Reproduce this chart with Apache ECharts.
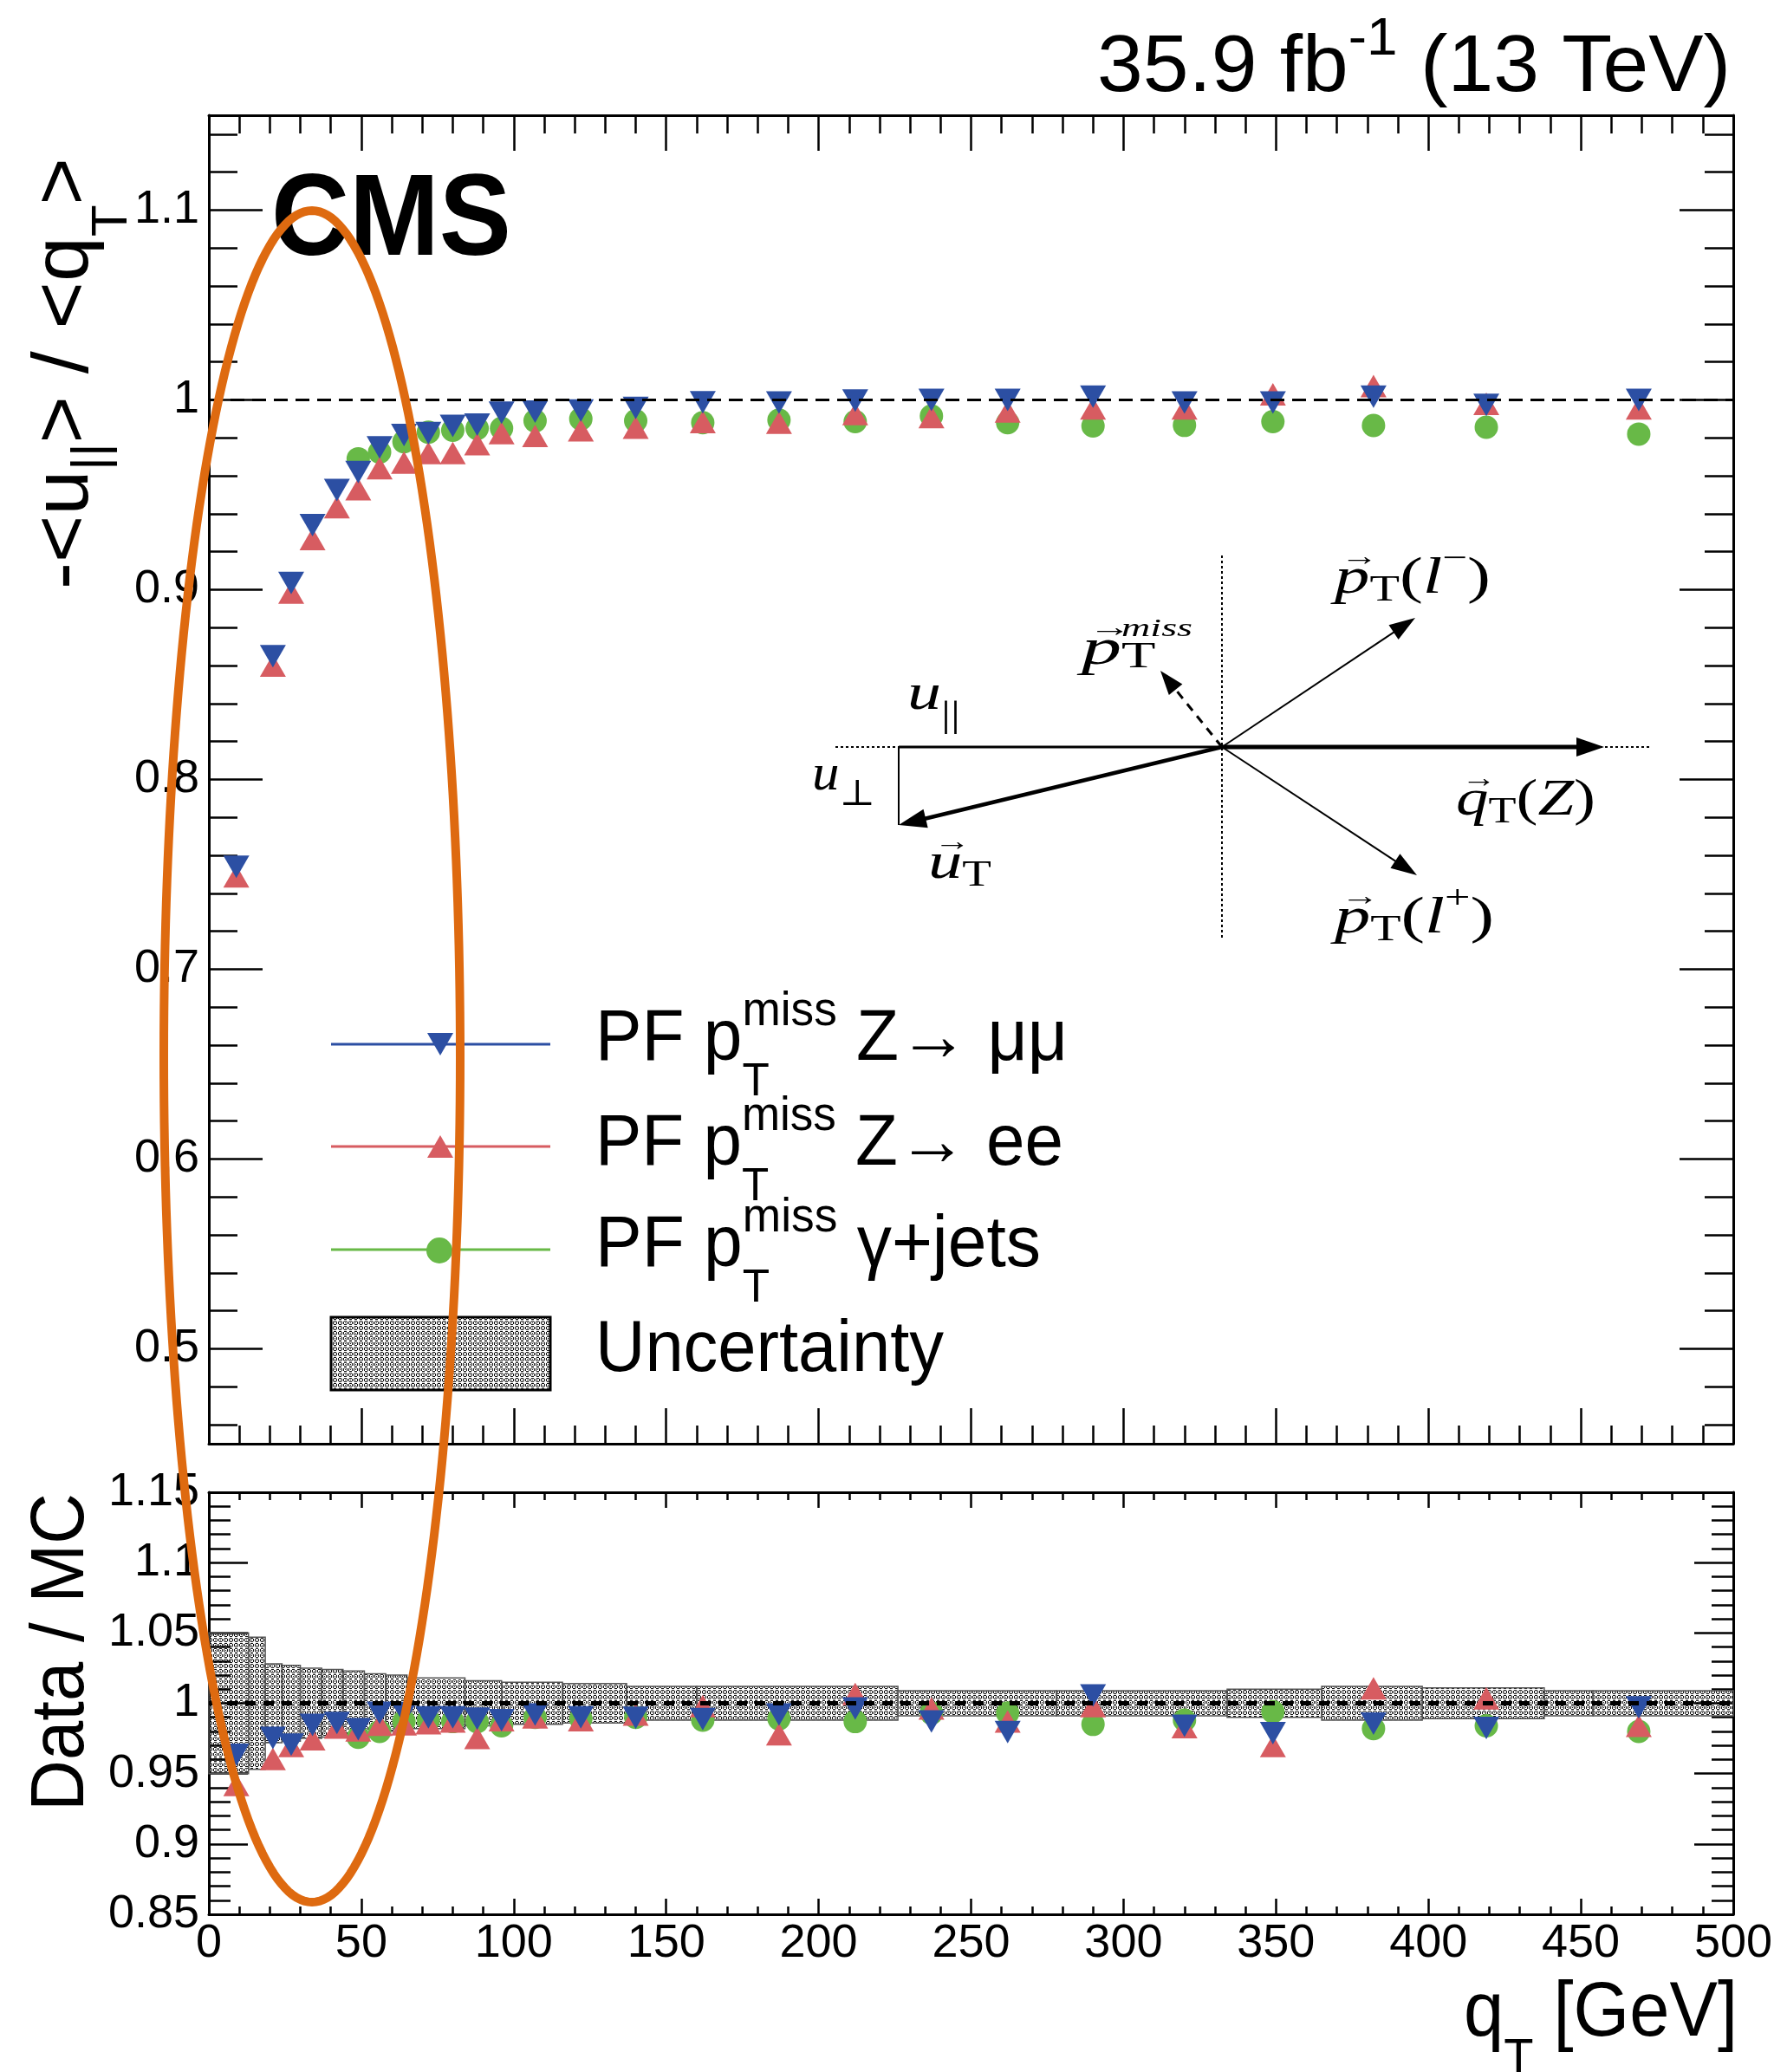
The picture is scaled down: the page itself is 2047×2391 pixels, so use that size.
<!DOCTYPE html>
<html>
<head>
<meta charset="utf-8">
<script src="https://cdn.jsdelivr.net/npm/echarts@6/dist/echarts.min.js"></script>
<style>
  html, body { margin: 0; padding: 0; background: #fff; }
  #chart { width: 2047px; height: 2391px; }
</style>
</head>
<body>
<div id="chart"></div>
<script>
// ---- data ---------------------------------------------------------------
// bin-averaged boson q_T of each point (GeV)
const qT = [9, 21, 27, 34, 42, 49, 56, 64, 72, 80, 88, 96, 107, 122, 140, 162, 187, 212, 237, 262, 290, 320, 349, 382, 419, 469];

// response -<u_par>/<q_T> in data
const respMuMu = [0.754, 0.865, 0.9035, 0.934, 0.9525, 0.962, 0.975, 0.9815, 0.9825, 0.9863, 0.987, 0.9933, 0.9938, 0.9944, 0.9958, 0.9988, 0.9986, 0.9997, 1.000, 1.000, 1.0017, 0.9986, 0.9986, 1.0017, 0.9974, 1.000];
const respEE   = [0.749, 0.860, 0.8985, 0.9267, 0.9435, 0.953, 0.964, 0.967, 0.972, 0.972, 0.9767, 0.9825, 0.981, 0.984, 0.9854, 0.9883, 0.988, 0.9926, 0.991, 0.994, 0.9956, 0.9956, 1.003, 1.0073, 0.998, 0.9956];
const respGJ   = [null, null, null, null, null, 0.969, 0.9725, 0.978, 0.983, 0.984, 0.985, 0.985, 0.989, 0.990, 0.989, 0.988, 0.9894, 0.9886, 0.9915, 0.988, 0.9863, 0.9866, 0.9886, 0.9865, 0.9856, 0.982];

// data / MC ratio of the response
const ratioMuMu = [0.9634, 0.9754, 0.9706, 0.9846, 0.986, 0.9815, 0.9932, 0.993, 0.990, 0.990, 0.989, 0.988, 0.992, 0.990, 0.9897, 0.9887, 0.992, 0.9963, 0.987, 0.9795, 1.0055, 0.984, 0.9788, 0.9856, 0.9825, 0.997];
const ratioEE   = [0.9419, 0.9604, 0.9696, 0.9745, 0.9827, 0.9807, 0.9848, 0.985, 0.9858, 0.987, 0.9754, 0.988, 0.990, 0.988, 0.992, 0.998, 0.978, 1.0066, 0.9963, 0.987, 0.998, 0.983, 0.9696, 1.0107, 1.0035, 0.984];
const ratioGJ   = [null, null, null, null, null, 0.9758, 0.980, 0.987, 0.988, 0.987, 0.987, 0.984, 0.990, 0.989, 0.990, 0.988, 0.989, 0.987, 0.993, 0.993, 0.985, 0.988, 0.994, 0.982, 0.984, 0.980];

// systematic uncertainty band on the ratio: bin edges (GeV) and half-width
const uncEdges = [0, 13, 18.5, 24, 30, 37, 44, 51, 58, 65, 84, 96, 116, 137, 160, 226, 278, 334, 365, 398, 438, 454, 500];
const uncHalf  = [0.050, 0.047, 0.028, 0.027, 0.025, 0.024, 0.023, 0.021, 0.020, 0.018, 0.016, 0.015, 0.014, 0.012, 0.012, 0.009, 0.009, 0.010, 0.012, 0.011, 0.009, 0.009];

// tick labels
const respTicks = [0.5, 0.6, 0.7, 0.8, 0.9, 1, 1.1];
const ratioTicks = [0.85, 0.9, 0.95, 1, 1.05, 1.1, 1.15];
const qTTicks = [0, 50, 100, 150, 200, 250, 300, 350, 400, 450, 500];

// ---- styling ------------------------------------------------------------
const SANS = '"Liberation Sans", Arial, Helvetica, sans-serif';
const SERIF = '"Liberation Serif", "DejaVu Serif", serif';
const BLUE = '#2c4fa3', RED = '#d75c61', GREEN = '#68b947', ORANGE = '#de6a10';

const respMinor = [];
for (let i = 46; i <= 114; i += 2) if (i % 10 !== 0) respMinor.push(i / 100);

// ring-style fill used for the uncertainty band
function hatch() {
  const c = document.createElement('canvas');
  c.width = 6; c.height = 6;
  const g = c.getContext('2d');
  g.fillStyle = '#111';
  [[1,0],[2,0],[3,0],[0,1],[4,1],[0,2],[2,2],[4,2],[0,3],[4,3],[1,4],[2,4],[3,4]]
    .forEach(p => g.fillRect(p[0], p[1], 1, 1));
  return { image: c, repeat: 'repeat' };
}
const HATCH = hatch();

const pairs = (xs, ys) => xs.map((x, i) => [x, ys[i]]).filter(d => d[1] != null);

// text measuring for the hand-set labels with sub/superscripts
const mctx = document.createElement('canvas').getContext('2d');
function tw(t, f) { mctx.font = f; return mctx.measureText(t).width; }

function mathText(o) {
  const kids = [];
  let cx = 0, stackW = 0;
  for (const tk of o.tokens) {
    const w = tw(tk.t, tk.f);
    kids.push({ type: 'text', x: cx, y: tk.dy || 0, z: 60,
      style: { text: tk.t, font: tk.f, fill: '#000', align: 'left', verticalAlign: 'middle' } });
    if (tk.vec) {
      kids.push({ type: 'text', x: cx + w / 2 + 6, y: (tk.dy || 0) - 24, z: 60,
        style: { text: '\u2192', font: '32px ' + SERIF, fill: '#000', align: 'center', verticalAlign: 'middle' } });
    }
    if (tk.stack) { stackW = Math.max(stackW, w); }
    else { cx += Math.max(w, stackW); stackW = 0; }
  }
  const total = cx;
  const s = o.width ? o.width / total : 1;
  const shift = o.align === 'right' ? -total : (o.align === 'center' ? -total / 2 : 0);
  kids.forEach(k => { k.x += shift; });
  return { type: 'group', x: o.x, y: o.y, rotation: o.rotation || 0, scaleX: s, scaleY: 1, children: kids };
}

function arrow(x0, y0, x1, y1, w, len, hw, dash) {
  const dx = x1 - x0, dy = y1 - y0, L = Math.hypot(dx, dy);
  const ux = dx / L, uy = dy / L;
  const bx = x1 - ux * len, by = y1 - uy * len;
  return [
    { type: 'line', z: 55, shape: { x1: x0, y1: y0, x2: bx + ux * 2, y2: by + uy * 2 },
      style: { stroke: '#000', lineWidth: w, lineDash: dash || null } },
    { type: 'polygon', z: 55, shape: { points: [[x1, y1], [bx - uy * hw, by + ux * hw], [bx + uy * hw, by - ux * hw]] },
      style: { fill: '#000' } }
  ];
}

// ---- axes ---------------------------------------------------------------
const axisLineStyle = { color: '#000', width: 3 };
const tickStyle = { color: '#000', width: 2.5 };
const labelStyle = { fontSize: 54, fontFamily: SANS, color: '#000' };

function qAxis(gridIndex, position, major, minor, labels) {
  return {
    type: 'value', gridIndex, position, min: qTTicks[0], max: qTTicks[qTTicks.length - 1], interval: 50,
    axisLine: { show: true, onZero: false, lineStyle: axisLineStyle },
    axisTick: { show: true, inside: true, length: major, lineStyle: tickStyle },
    minorTick: { show: true, splitNumber: 5, length: minor, lineStyle: tickStyle },
    axisLabel: labels ? Object.assign({ show: true, margin: 7 }, labelStyle) : { show: false },
    splitLine: { show: false }, minorSplitLine: { show: false }
  };
}
function respAxis(position, ticks, len, line, labels) {
  return {
    type: 'value', gridIndex: 0, position, min: 0.45, max: 1.15,
    axisLine: { show: line, onZero: false, lineStyle: axisLineStyle },
    axisTick: { show: true, inside: true, length: len, customValues: ticks, lineStyle: tickStyle },
    axisLabel: labels ? Object.assign({ show: true, margin: 11, customValues: respTicks }, labelStyle) : { show: false },
    splitLine: { show: false }
  };
}
function ratioAxis(position, labels) {
  return {
    type: 'value', gridIndex: 1, position, min: ratioTicks[0], max: ratioTicks[ratioTicks.length - 1], interval: 0.05,
    axisLine: { show: true, onZero: false, lineStyle: axisLineStyle },
    axisTick: { show: true, inside: true, length: 45, lineStyle: tickStyle },
    minorTick: { show: true, splitNumber: 5, length: 25, lineStyle: tickStyle },
    axisLabel: labels ? Object.assign({ show: true, margin: 11 }, labelStyle) : { show: false },
    splitLine: { show: false }, minorSplitLine: { show: false }
  };
}

// ---- decorations --------------------------------------------------------
const g = [];
// luminosity / energy
g.push(mathText({ x: 1997, y: 80, align: 'right', width: 731, tokens: [
  { t: '35.9 fb', f: '92px ' + SANS },
  { t: '-1', f: '62px ' + SANS, dy: -34 },
  { t: ' (13 TeV)', f: '92px ' + SANS }
]}));
// CMS
g.push(mathText({ x: 313, y: 257, width: 277, tokens: [{ t: 'CMS', f: 'bold 134px ' + SANS }] }));
// y titles
g.push(mathText({ x: 76, y: 680, rotation: Math.PI / 2, width: 498, tokens: [
  { t: '-<u', f: '90px ' + SANS },
  { t: '||', f: '58px ' + SANS, dy: 31 },
  { t: '> / <q', f: '90px ' + SANS },
  { t: 'T', f: '58px ' + SANS, dy: 54 },
  { t: '>', f: '90px ' + SANS }
]}));
g.push(mathText({ x: 72, y: 2090, rotation: Math.PI / 2, width: 367, tokens: [{ t: 'Data / MC', f: '88px ' + SANS }] }));
// x title
g.push(mathText({ x: 2005, y: 2324, align: 'right', width: 316, tokens: [
  { t: 'q', f: '89px ' + SANS },
  { t: 'T', f: '60px ' + SANS, dy: 53 },
  { t: ' [GeV]', f: '89px ' + SANS }
]}));

// legend
const legendRows = [
  { y: 1205, ty: 1200, color: BLUE, label: ' Z\u2192 \u03bc\u03bc', w: 545 },
  { y: 1323, ty: 1321, color: RED, label: ' Z\u2192 ee', w: 540 },
  { y: 1442, ty: 1438, color: GREEN, label: ' \u03b3+jets', w: 514 }
];
legendRows.forEach(r => {
  g.push({ type: 'line', z: 50, shape: { x1: 382, y1: r.y, x2: 635, y2: r.y }, style: { stroke: r.color, lineWidth: 3 } });
  g.push(mathText({ x: 687, y: r.ty, width: r.w, tokens: [
    { t: 'PF p', f: '83px ' + SANS },
    { t: 'miss', f: '55px ' + SANS, dy: -32, stack: true },
    { t: 'T', f: '53px ' + SANS, dy: 49 },
    { t: r.label, f: '83px ' + SANS }
  ]}));
});
g.push({ type: 'polygon', z: 52, shape: { points: [[493, 1192], [523, 1192], [508, 1218]] }, style: { fill: BLUE } });
g.push({ type: 'polygon', z: 52, shape: { points: [[493, 1336], [523, 1336], [508, 1310]] }, style: { fill: RED } });
g.push({ type: 'circle', z: 52, shape: { cx: 507, cy: 1443, r: 15 }, style: { fill: GREEN } });
g.push({ type: 'rect', z: 50, shape: { x: 382, y: 1520, width: 253, height: 84 }, style: { fill: HATCH, stroke: '#000', lineWidth: 3 } });
g.push(mathText({ x: 687, y: 1559, width: 402, tokens: [{ t: 'Uncertainty', f: '83px ' + SANS }] }));

// recoil diagram
const O = [1410, 862];
g.push({ type: 'line', z: 54, shape: { x1: 964, y1: O[1], x2: 1903, y2: O[1] }, style: { stroke: '#000', lineWidth: 2, lineDash: [3, 3] } });
g.push({ type: 'line', z: 54, shape: { x1: O[0], y1: 641, x2: O[0], y2: 1084 }, style: { stroke: '#000', lineWidth: 2, lineDash: [3, 3] } });
g.push({ type: 'line', z: 55, shape: { x1: 1037, y1: O[1], x2: O[0], y2: O[1] }, style: { stroke: '#000', lineWidth: 3 } });
g.push({ type: 'line', z: 55, shape: { x1: 1037, y1: O[1], x2: 1037, y2: 952 }, style: { stroke: '#000', lineWidth: 2 } });
g.push(...arrow(O[0], O[1], 1851, O[1], 5, 32, 11));
g.push(...arrow(O[0], O[1], 1037, 952, 4.5, 32, 11));
g.push(...arrow(O[0], O[1], 1633, 713, 2, 30, 10));
g.push(...arrow(O[0], O[1], 1635, 1010, 2, 30, 10));
g.push(...arrow(O[0], O[1], 1339, 774, 3, 28, 10, [10, 8]));

const mI = 'italic 60px ' + SERIF, mR = '60px ' + SERIF, sR = '42px ' + SERIF;
g.push(mathText({ x: 1540, y: 668, width: 180, tokens: [
  { t: 'p', f: mI, vec: true }, { t: 'T', f: sR, dy: 14 }, { t: '(', f: mR }, { t: 'l', f: mI },
  { t: '\u2212', f: '38px ' + SERIF, dy: -22 }, { t: ')', f: mR }
]}));
g.push(mathText({ x: 1540, y: 1060, width: 184, tokens: [
  { t: 'p', f: mI, vec: true }, { t: 'T', f: sR, dy: 14 }, { t: '(', f: mR }, { t: 'l', f: mI },
  { t: '+', f: '38px ' + SERIF, dy: -22 }, { t: ')', f: mR }
]}));
g.push(mathText({ x: 1680, y: 924, width: 161, tokens: [
  { t: 'q', f: mI, vec: true }, { t: 'T', f: sR, dy: 14 }, { t: '(', f: mR }, { t: 'Z', f: mI }, { t: ')', f: mR }
]}));
g.push(mathText({ x: 1071, y: 997, width: 73, tokens: [
  { t: 'u', f: mI, vec: true }, { t: 'T', f: sR, dy: 14 }
]}));
g.push(mathText({ x: 1047, y: 802, width: 61, tokens: [
  { t: 'u', f: mI }, { t: '||', f: sR, dy: 25 }
]}));
g.push(mathText({ x: 937, y: 895, width: 73, tokens: [
  { t: 'u', f: mI }, { t: '\u22a5', f: sR, dy: 23 }
]}));
g.push(mathText({ x: 1248, y: 750, width: 128, tokens: [
  { t: 'p', f: mI, vec: true },
  { t: 'miss', f: 'italic 30px ' + SERIF, dy: -24, stack: true },
  { t: 'T', f: sR, dy: 9 }
]}));

// highlight ellipse around the low-q_T region
const ell = [];
for (let i = 0; i < 240; i++) {
  const a = (i / 240) * Math.PI * 2;
  ell.push([360 + 171 * Math.cos(a), 1219 + 976 * Math.sin(a)]);
}
g.push({ type: 'polygon', z: 100, shape: { points: ell }, style: { fill: null, stroke: ORANGE, lineWidth: 10 } });

// ---- chart --------------------------------------------------------------
const chart = echarts.init(document.getElementById('chart'), null, { renderer: 'canvas' });

function markers(name, data, xi, yi, kind) {
  const base = { type: 'scatter', name, data, xAxisIndex: xi, yAxisIndex: yi, silent: true, animation: false };
  if (kind === 'mumu') return Object.assign(base, { symbol: 'triangle', symbolRotate: 180, symbolSize: [30, 26], itemStyle: { color: BLUE, opacity: 1 }, z: 4 });
  if (kind === 'ee') return Object.assign(base, { symbol: 'triangle', symbolSize: [30, 26], itemStyle: { color: RED, opacity: 1 }, z: 3 });
  return Object.assign(base, { symbol: 'circle', symbolSize: 27, itemStyle: { color: GREEN, opacity: 1 }, z: 2 });
}

const bandData = uncHalf.map((h, i) => [uncEdges[i], uncEdges[i + 1], h]);

chart.setOption({
  animation: false,
  backgroundColor: '#fff',
  grid: [
    { left: 241, top: 133, width: 1759, height: 1533, outerBoundsMode: 'none', containLabel: false },
    { left: 241, top: 1722, width: 1759, height: 487, outerBoundsMode: 'none', containLabel: false }
  ],
  xAxis: [
    qAxis(0, 'bottom', 41, 21, false),
    qAxis(0, 'top', 41, 21, false),
    qAxis(1, 'bottom', 18, 9, true),
    qAxis(1, 'top', 18, 9, false)
  ],
  yAxis: [
    respAxis('left', respTicks, 62, true, true),
    respAxis('left', respMinor, 33, false, false),
    respAxis('right', respTicks, 62, true, false),
    respAxis('right', respMinor, 33, false, false),
    ratioAxis('left', true),
    ratioAxis('right', false)
  ],
  series: [
    markers('gjets', pairs(qT, respGJ), 0, 0, 'gj'),
    markers('ee', pairs(qT, respEE), 0, 0, 'ee'),
    markers('mumu', pairs(qT, respMuMu), 0, 0, 'mumu'),
    {
      type: 'line', xAxisIndex: 0, yAxisIndex: 0, data: [[0, 1], [500, 1]], symbol: 'none', silent: true, z: 5,
      lineStyle: { color: '#000', width: 3, type: [16, 9] }
    },
    {
      type: 'custom', xAxisIndex: 2, yAxisIndex: 4, data: bandData, silent: true, z: 1,
      renderItem: function (params, api) {
        const x0 = api.value(0), x1 = api.value(1), h = api.value(2);
        const p0 = api.coord([x0, 1 + h]);
        const p1 = api.coord([x1, 1 - h]);
        return {
          type: 'rect',
          shape: { x: p0[0], y: p0[1], width: p1[0] - p0[0], height: p1[1] - p0[1] },
          style: { fill: HATCH, stroke: '#555', lineWidth: 1.5 }
        };
      }
    },
    markers('gjets', pairs(qT, ratioGJ), 2, 4, 'gj'),
    markers('ee', pairs(qT, ratioEE), 2, 4, 'ee'),
    markers('mumu', pairs(qT, ratioMuMu), 2, 4, 'mumu'),
    {
      type: 'line', xAxisIndex: 2, yAxisIndex: 4, data: [[0, 1], [500, 1]], symbol: 'none', silent: true, z: 5,
      lineStyle: { color: '#000', width: 5, type: [12, 9] }
    }
  ],
  graphic: { elements: g }
});
</script>
</body>
</html>
